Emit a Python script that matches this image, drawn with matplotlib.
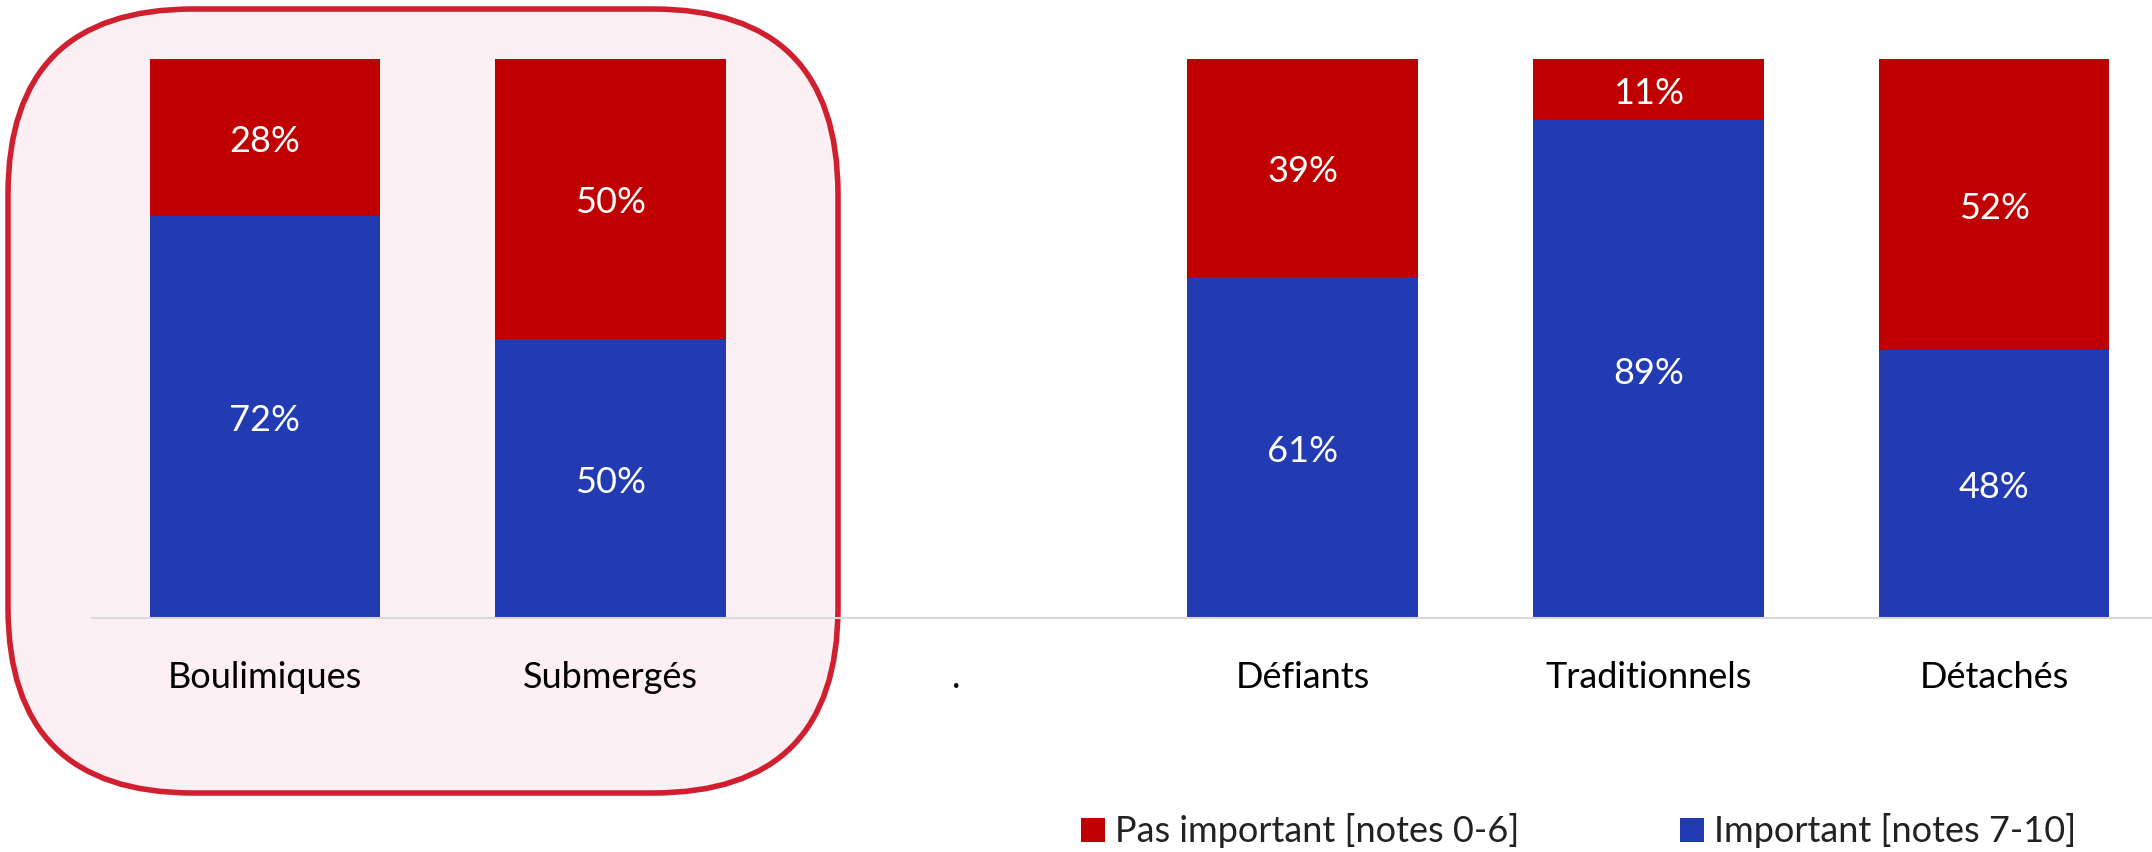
import matplotlib
matplotlib.use("Agg")
import matplotlib.pyplot as plt
from matplotlib.patches import FancyBboxPatch, Rectangle
import numpy as np

categories = ["Boulimiques", "Submergés", ".", "Défiants", "Traditionnels", "Détachés"]
pas_important = [28, 50, None, 39, 11, 52]
important = [72, 50, None, 61, 89, 48]
legend_labels = ["Pas important [notes 0-6]", "Important [notes 7-10]"]

RED = "#C00000"
BLUE = "#223BB3"
FONT = ["Lato", "DejaVu Sans"]
plt.rcParams["font.family"] = FONT

W, H = 2152, 853
fig = plt.figure(figsize=(W / 100, H / 100), dpi=100)
fig.patch.set_facecolor("white")

# background axes in pixel coordinates (for the highlight box and legend)
bg = fig.add_axes([0, 0, 1, 1], zorder=-1)
bg.set_xlim(0, W)
bg.set_ylim(H, 0)
bg.axis("off")
box = FancyBboxPatch((8, 10), 830, 784,
                     boxstyle="round,pad=0,rounding_size=185",
                     facecolor="#FCF0F4", edgecolor="#D0202F", linewidth=4)
bg.add_patch(box)

left = 92 / W
bottom = (H - 619) / H
height = (619 - 60) / H
ax = fig.add_axes([left, bottom, 1 - left, height], zorder=1)
ax.patch.set_alpha(0)

x = np.arange(len(categories))
idx = [i for i, v in enumerate(important) if v is not None]
imp_vals = [important[i] for i in idx]
pas_vals = [pas_important[i] for i in idx]
bw = 0.667
ax.bar(idx, imp_vals, width=bw, color=BLUE, zorder=2)
ax.bar(idx, pas_vals, width=bw, bottom=imp_vals, color=RED, zorder=2)

for i, a, b in zip(idx, imp_vals, pas_vals):
    ax.text(i, a / 2 - 0.5, f"{a}%", ha="center", va="center", color="white", fontsize=26, zorder=3)
    ax.text(i, a + b / 2 - 0.5, f"{b}%", ha="center", va="center", color="white", fontsize=26, zorder=3)

ax.set_xlim(-0.5, 5.5 - 15 / 345.8)
ax.set_ylim(0, 100)
ax.set_xticks(x)
ax.set_xticklabels(categories, fontsize=26)
ax.tick_params(axis="x", length=0, pad=30)
ax.set_yticks([])
for s in ["top", "right", "left"]:
    ax.spines[s].set_visible(False)
ax.spines["bottom"].set_color("#D9D9D9")
ax.spines["bottom"].set_linewidth(1.5)

# legend
sq = 24
for (xs, lab, col) in [(1081, legend_labels[0], RED), (1680, legend_labels[1], BLUE)]:
    bg.add_patch(Rectangle((xs, 819), sq, sq, facecolor=col, edgecolor="none"))
    bg.text(xs + 34, 831, lab, ha="left", va="center", fontsize=26, color="#222222")

fig.savefig("out.png", dpi=100, facecolor="white")
